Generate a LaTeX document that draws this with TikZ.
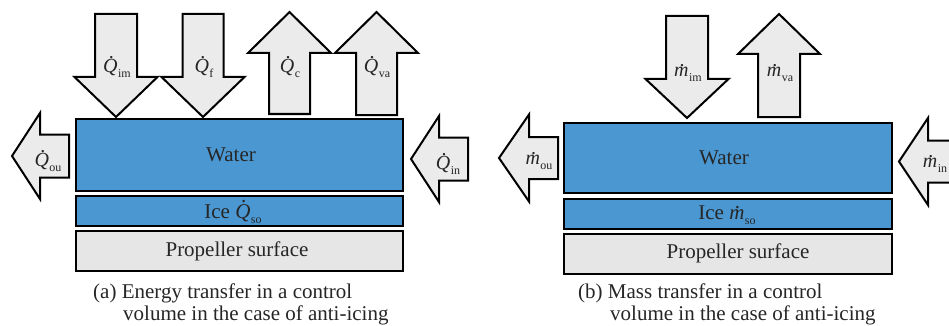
\documentclass[tikz,border=0pt]{standalone}
\usepackage{fontspec}
\setmainfont{Liberation Serif}
\definecolor{waterblue}{HTML}{4A97D1}
\definecolor{arrowgray}{HTML}{EBEBEB}
\definecolor{surfgray}{HTML}{E6E6E6}
\newsavebox{\dotletterbox}
\newcommand{\dotlet}[2]{\sbox{\dotletterbox}{\itshape #1}\rlap{\hbox to\wd\dotletterbox{\hss\kern#2\raisebox{\dimexpr\ht\dotletterbox+1.2pt\relax}{\upshape .}\hss}}\usebox{\dotletterbox}}
\newcommand{\dq}[1]{\dotlet{Q}{2pt}\kern0.5pt\raisebox{-5pt}{\fontsize{12}{12}\selectfont #1}}
\newcommand{\dm}[1]{\dotlet{m}{1.5pt}\kern0.5pt\raisebox{-5pt}{\fontsize{12}{12}\selectfont #1}}
\newcommand{\darr}[6]{\draw[arr] ({#1-#3},#2) -- ({#1+#3},#2) -- ({#1+#3},#4) -- ({#1+#5},#4) -- (#1,#6) -- ({#1-#5},#4) -- ({#1-#3},#4) -- cycle;}
\newcommand{\harr}[6]{\draw[arr] (#2,{#1-#3}) -- (#2,{#1+#3}) -- (#4,{#1+#3}) -- (#4,{#1+#5}) -- (#6,#1) -- (#4,{#1-#5}) -- (#4,{#1-#3}) -- cycle;}
\tikzset{
  arr/.style={draw=black, fill=arrowgray, line width=2pt, line join=miter},
  layer/.style={draw=black, line width=2.3pt, inner sep=0pt, minimum width=327pt},
  waterbox/.style={layer, fill=waterblue},
  surfbox/.style={layer, fill=surfgray},
  lbl/.style={inner sep=0pt, font=\fontsize{20}{24}\selectfont, text=black!85},
  txt/.style={inner sep=0pt, font=\fontsize{21}{25}\selectfont, text=black!85},
  captext/.style={inner sep=0pt, anchor=base west, font=\fontsize{21}{25}\selectfont, text=black!85}
}
\begin{document}
\begin{tikzpicture}[x=1pt,y=-1pt]
\clip (0,0) rectangle (949,326);
\fill[white] (0,0) rectangle (949,326);
% ---------- panel (a) ----------
\node[waterbox, minimum height=72pt] (wa) at (239.5,155) {};
\node[waterbox, minimum height=30pt] (ia) at (239.5,211) {};
\node[surfbox, minimum height=40pt] (pa) at (239.5,251) {};
\node[txt] (twa) at (231,155) {Water};
\node[txt] (tia) at (233,212) {Ice \dq{so}};
\node[txt] (tpa) at (237,251) {Propeller surface};
\darr{116}{14}{21}{77}{41.5}{117}
\darr{203}{14}{20.5}{77}{41.5}{117}
\darr{289.5}{114}{20.5}{53}{41.5}{12}
\darr{376.5}{115}{20.5}{53}{41.5}{12}
\harr{156}{69}{21.5}{40}{43}{12}
\harr{159}{468}{21.5}{439}{43}{411}
\node[lbl] (qim) at (117,67) {\dq{im}};
\node[lbl] (qf) at (204,67) {\dq{f}};
\node[lbl] (qc) at (290,67) {\dq{c}};
\node[lbl] (qva) at (377,67) {\dq{va}};
\node[lbl] (qou) at (48,161) {\dq{ou}};
\node[lbl] (qin) at (448,164) {\dq{in}};
\node[captext] (capa1) at (93,298) {(a) Energy transfer in a control};
\node[captext] (capa2) at (123,320) {volume in the case of anti-icing};
% ---------- panel (b) ----------
\node[waterbox, minimum width=328pt, minimum height=70pt] (wb) at (728,158) {};
\node[waterbox, minimum width=328pt, minimum height=30pt] (ib) at (728,214) {};
\node[surfbox, minimum width=328pt, minimum height=40pt] (pb) at (728,254) {};
\node[txt] (twb) at (724,158) {Water};
\node[txt] (tib) at (727,215) {Ice \dm{so}};
\node[txt] (tpb) at (738,253) {Propeller surface};
\darr{687}{16}{21}{79}{41.5}{118}
\darr{779}{117}{21}{54}{41}{14}
\harr{158}{558}{21}{529}{43.5}{499}
\harr{161.5}{965}{21}{928}{43.5}{899}
\node[lbl] (mim) at (688,73) {\dm{im}};
\node[lbl] (mva) at (780,73) {\dm{va}};
\node[lbl] (mou) at (539,161) {\dm{ou}};
\node[lbl] (min) at (935,164) {\dm{in}};
\node[captext] (capb1) at (578,298) {(b) Mass transfer in a control};
\node[captext] (capb2) at (610,320) {volume in the case of anti-icing};
\end{tikzpicture}
\end{document}
